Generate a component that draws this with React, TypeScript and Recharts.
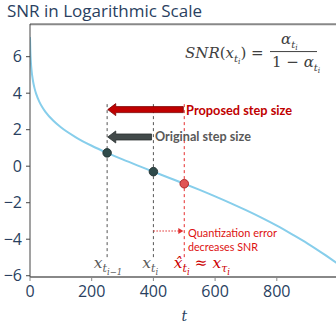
import { ComposedChart, Line, Scatter, XAxis, YAxis, ReferenceLine, ReferenceDot } from 'recharts';

// log SNR of the noise schedule
const TIMESTEPS = [0, 1, 2, 3, 5, 7, 10, 15, 20, 30, 40, 50, 75, 100, 150, 200, 250, 300, 350, 400, 450, 500, 550, 600, 650, 700, 750, 800, 850, 900, 950, 999];
const LOG_SNR = [7.07, 6.37, 5.96, 5.67, 5.26, 4.97, 4.64, 4.25, 3.96, 3.54, 3.23, 2.98, 2.5, 2.13, 1.57, 1.12, 0.73, 0.37, 0.03, -0.3, -0.63, -0.96, -1.3, -1.65, -2.02, -2.41, -2.82, -3.26, -3.74, -4.24, -4.79, -5.36];

// sampled steps
const ORIGINAL_T = [250, 400];
const ORIGINAL_SNR = [0.73, -0.3];
const PROPOSED_T = [500];
const PROPOSED_SNR = [-0.96];

const X_TICKS = [0, 200, 400, 600, 800];
const Y_TICKS = [-6, -4, -2, 0, 2, 4, 6];

const curve = TIMESTEPS.map((t, i) => ({ t, snr: LOG_SNR[i] }));
const originalPts = ORIGINAL_T.map((t, i) => ({ t, snr: ORIGINAL_SNR[i] }));
const proposedPts = PROPOSED_T.map((t, i) => ({ t, snr: PROPOSED_SNR[i] }));

const AXIS_BLUE = '#2a3f5f';
const MATH_FONT = '"DejaVu Serif", serif';
const NOTE_FONT = 'Lato, "Open Sans", sans-serif';

const fmt = (v: number) => String(v).replace('-', '\u2212');

const blockArrow = (fill: string, stroke: string) => (p: any) => {
  const tip = Math.min(p.x1, p.x2);
  const tail = Math.max(p.x1, p.x2);
  const y = p.y1;
  const pts = [
    [tip, y], [tip + 8, y - 6], [tip + 8, y - 3], [tail, y - 3],
    [tail, y + 3], [tip + 8, y + 3], [tip + 8, y + 6],
  ].map((q) => q.join(',')).join(' ');
  return <polygon points={pts} fill={fill} stroke={stroke} strokeWidth={0.8} />;
};

const dottedArrow = (p: any) => {
  const y = p.y1;
  const end = Math.max(p.x1, p.x2);
  return (
    <g>
      <line x1={Math.min(p.x1, p.x2)} y1={y} x2={end - 4} y2={y} stroke="#e03030" strokeWidth={1.2} strokeDasharray="1.5 1.5" />
      <polygon points={`${end},${y} ${end - 5},${y - 3} ${end - 5},${y + 3}`} fill="#e03030" />
    </g>
  );
};

const dot = (fill: string, stroke: string) => (p: any) => (
  <circle cx={p.cx} cy={p.cy} r={4.3} fill={fill} stroke={stroke} strokeWidth={0.8} />
);

const note = (lines: string[], color: string, size: number, weight: string, widths: number[]) => (p: any) => (
  <g>
    {lines.map((s, i) => (
      <text key={i} x={p.cx} y={p.cy + i * 13.4} fill={color} fontSize={size} fontWeight={weight}
        fontFamily={NOTE_FONT} textLength={widths[i]} lengthAdjust="spacingAndGlyphs">{s}</text>
    ))}
  </g>
);

// x_{t_{sub}} style label
const xLabel = (hat: boolean, sub: string, subsub: string, color: string, tail?: boolean) => (p: any) => (
  <text x={p.cx} y={p.cy} fill={color} fontFamily={MATH_FONT} fontStyle="italic" fontSize={15.5}>
    {hat ? 'x\u0302' : 'x'}
    <tspan dy={3.5} fontSize={11}>{sub}</tspan>
    <tspan dy={3} fontSize={8.5}>{subsub}</tspan>
    {tail && (
      <>
        <tspan dy={-6.5} fontSize={15.5} fontStyle="normal">{' \u2248 '}</tspan>
        <tspan fontSize={15.5}>x</tspan>
        <tspan dy={3.5} fontSize={11}>{'\u03c4'}</tspan>
        <tspan dy={3} fontSize={8.5}>i</tspan>
      </>
    )}
  </text>
);

const formula = (p: any) => {
  const x = p.cx;
  const y = p.cy;
  const c = '#404040';
  return (
    <g fill={c} fontFamily={MATH_FONT} fontStyle="italic">
      <text x={x - 85} y={y + 6} fontSize={15}>
        SNR
        <tspan fontStyle="normal">(</tspan>x
        <tspan dy={4} fontSize={10}>t</tspan>
        <tspan dy={2.5} fontSize={7.5}>i</tspan>
        <tspan dy={-6.5} fontSize={15} fontStyle="normal">{') ='}</tspan>
      </text>
      <line x1={x} y1={y} x2={x + 47} y2={y} stroke={c} strokeWidth={1} />
      <text x={x + 11} y={y - 8} fontSize={15}>
        {'\u03b1'}
        <tspan dy={4} fontSize={10}>t</tspan>
        <tspan dy={2.5} fontSize={7.5}>i</tspan>
      </text>
      <text x={x + 2} y={y + 15} fontSize={15}>
        <tspan fontStyle="normal">{'1 \u2212 '}</tspan>
        {'\u03b1'}
        <tspan dy={4} fontSize={10}>t</tspan>
        <tspan dy={2.5} fontSize={7.5}>i</tspan>
      </text>
    </g>
  );
};

export default function App() {
  return (
    <div style={{ position: 'fixed', left: 0, top: 0, width: 336, height: 325, overflow: 'hidden', background: '#fff' }}>
      <div style={{ position: 'absolute', left: 7, top: 1, fontFamily: '"Open Sans", sans-serif', fontSize: 17, lineHeight: '20px', color: AXIS_BLUE, whiteSpace: 'nowrap' }}>
        SNR in Logarithmic Scale
      </div>
      <ComposedChart width={340} height={325} data={curve} margin={{ top: 24, right: 1.5, bottom: 0, left: 0 }}>
        <XAxis dataKey="t" type="number" domain={[0, 1000]} ticks={X_TICKS} allowDataOverflow
          height={48} tickSize={4} tickMargin={5}
          axisLine={{ stroke: '#888', strokeWidth: 2 }} tickLine={{ stroke: '#888' }}
          tick={{ fill: AXIS_BLUE, fontSize: 16, fontFamily: '"Open Sans", sans-serif' }}
          label={{ value: 't', position: 'insideBottom', offset: 4, fill: AXIS_BLUE, fontSize: 14, fontStyle: 'italic', fontFamily: MATH_FONT }} />
        <YAxis type="number" domain={[-6.07, 7.79]} ticks={Y_TICKS} allowDataOverflow width={30}
          tickSize={4} tickMargin={4} tickFormatter={fmt}
          axisLine={{ stroke: '#444' }} tickLine={{ stroke: '#444' }}
          tick={{ fill: AXIS_BLUE, fontSize: 16, fontFamily: '"Open Sans", sans-serif' }} />

        <ReferenceLine y={7.78} stroke="#888" strokeWidth={2} />

        <Line dataKey="snr" type="monotone" stroke="#87ceeb" strokeWidth={2} dot={false} isAnimationActive={false} />

        <ReferenceLine segment={[{ x: 250, y: 3.4 }, { x: 250, y: -5.03 }]} stroke="#555" strokeDasharray="3 3" />
        <ReferenceLine segment={[{ x: 400, y: 3.4 }, { x: 400, y: -5.03 }]} stroke="#555" strokeDasharray="3 3" />
        <ReferenceLine segment={[{ x: 500, y: 3.4 }, { x: 500, y: -5.03 }]} stroke="#e62e2e" strokeDasharray="3 3" />

        <ReferenceLine segment={[{ x: 497, y: 3.1 }, { x: 252, y: 3.1 }]} shape={blockArrow('#c00000', '#7a0000')} />
        <ReferenceLine segment={[{ x: 394, y: 1.6 }, { x: 252, y: 1.6 }]} shape={blockArrow('#424a4a', '#2a3030')} />
        <ReferenceLine segment={[{ x: 400, y: -3.55 }, { x: 497, y: -3.55 }]} shape={dottedArrow} />

        <Scatter data={originalPts} dataKey="snr" shape={dot('#2f4a4a', '#1a2a2a')} isAnimationActive={false} />
        <Scatter data={proposedPts} dataKey="snr" shape={dot('#e05555', '#a01010')} isAnimationActive={false} />

        <ReferenceDot x={506} y={2.83} shape={note(['Proposed step size'], '#c00000', 12.5, 'bold', [106])} />
        <ReferenceDot x={405} y={1.38} shape={note(['Original step size'], '#595959', 12.5, 'bold', [96])} />
        <ReferenceDot x={512} y={-3.9} shape={note(['Quantization error', 'decreases SNR'], '#dd1111', 11, 'normal', [89, 70])} />

        <ReferenceDot x={207} y={-5.58} shape={xLabel(false, 't', 'i\u22121', '#595959')} />
        <ReferenceDot x={364} y={-5.58} shape={xLabel(false, 't', 'i', '#595959')} />
        <ReferenceDot x={466} y={-5.58} shape={xLabel(true, 't', 'i', '#cc0000', true)} />

        <ReferenceDot x={778} y={6.28} shape={formula} />
      </ComposedChart>
    </div>
  );
}
